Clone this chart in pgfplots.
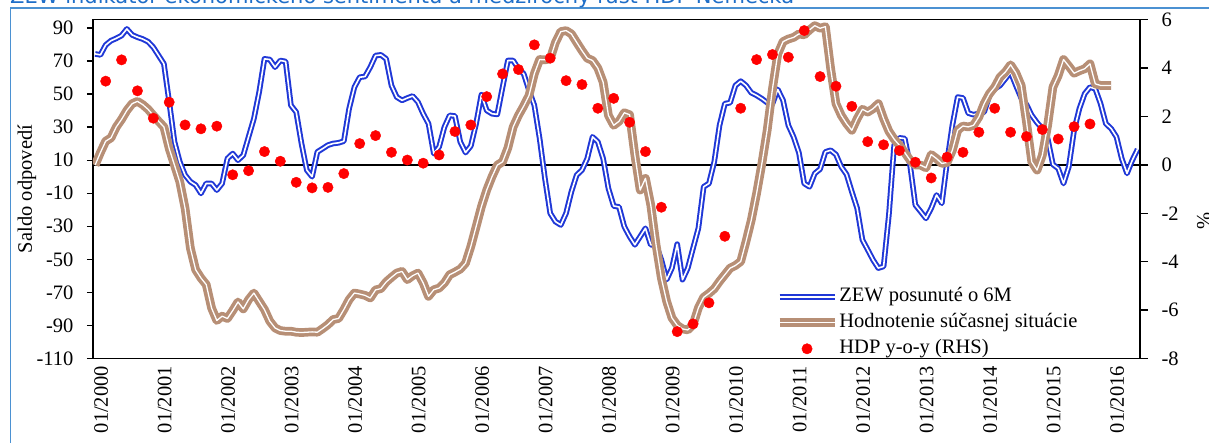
\documentclass[border=0pt]{standalone}
\usepackage{fontspec}
\setmainfont{Liberation Serif}
\newfontfamily\titlefont{DejaVu Sans}
\usepackage{pgfplots}
\pgfplotsset{compat=1.18}
\usepackage{pgfplotstable}
\definecolor{zewblue}{RGB}{32,56,215}
\definecolor{hodbrown}{RGB}{183,143,118}
\definecolor{frameblue}{RGB}{75,145,210}
\definecolor{titleblue}{RGB}{30,110,200}
\newcommand{\lbl}{\fontsize{20.5}{24}\selectfont}

\pgfplotstableread{
m v
0 74.3
1 73.7
2 79.7
3 82.3
4 83.7
5 85.4
6 89.4
7 85.8
8 84.4
9 83.3
10 81.7
11 78.3
12 73.3
13 68.3
14 45.2
15 21.1
16 9.0
17 1.0
18 -3.0
19 -5.1
20 -10.1
21 -4.1
22 -4.1
23 -8.1
24 -4.1
25 11.0
26 14.0
27 10.0
28 13.0
29 24.1
30 35.1
31 51.2
32 71.3
33 70.9
34 66.3
35 70.3
36 69.7
37 43.2
38 39.1
39 20.1
40 4.0
41 0.0
42 15.0
43 17.0
44 19.1
45 20.1
46 20.5
47 21.5
48 41.2
49 54.2
50 60.2
51 60.6
52 66.3
53 73.3
54 73.7
55 71.3
56 55.2
57 48.2
58 46.2
59 47.6
60 48.8
61 45.2
62 38.1
63 32.1
64 14.0
65 18.0
66 30.0
67 37.1
68 36.7
69 21.1
70 14.6
71 18.6
72 32.1
73 49.6
74 40.1
75 38.1
76 37.7
77 54.2
78 70.3
79 70.3
80 65.3
81 62.2
82 52.2
83 43.2
84 23.1
85 -1.0
86 -22.1
87 -27.2
88 -29.2
89 -22.1
90 -9.1
91 1.0
92 4.0
93 11.0
94 24.1
95 21.1
96 11.0
97 -7.1
98 -17.7
99 -18.3
100 -30.2
101 -36.2
102 -41.2
103 -36.2
104 -31.2
105 -41.2
106 -41.2
107 -50.3
108 -62.3
109 -55.3
110 -40.8
111 -62.3
112 -55.3
113 -43.2
114 -31.2
115 -6.1
116 -4.1
117 9.0
118 31.1
119 44.2
120 44.8
121 55.2
122 57.8
123 55.2
124 50.8
125 49.2
126 47.2
127 44.8
128 44.2
129 52.8
130 46.2
131 31.1
132 24.0
133 14.5
134 -4.1
135 -6.1
136 2.0
137 4.6
138 15.0
139 16.0
140 13.4
141 6.0
142 1.4
143 -9.1
144 -19.1
145 -38.2
146 -44.2
147 -50.3
148 -55.3
149 -54.3
150 -23.1
151 19.1
152 23.5
153 23.1
154 7.0
155 -17.1
156 -21.1
157 -25.2
158 -19.1
159 -11.1
160 -16.1
161 9.0
162 31.1
163 48.2
164 47.6
165 38.5
166 37.5
167 38.3
168 39.1
169 49.2
170 53.2
171 55.2
172 59.2
173 63.3
174 55.2
175 47.6
176 43.6
177 37.1
178 32.7
179 29.1
180 23.1
181 7.4
182 5.0
183 -4.1
184 6.0
185 28.1
186 41.2
187 50.2
188 54.2
189 53.2
190 44.2
191 32.1
192 29.1
193 24.1
194 11.0
195 2.0
196 10.0
197 16.6
}\zewdata

\pgfplotstableread{
m v
0 7.0
1 14.6
2 21.5
3 23.5
4 30.1
5 34.7
6 40.1
7 44.2
8 45.6
9 43.6
10 40.8
11 37.1
12 33.5
13 30.1
14 17.0
15 7.0
16 -3.1
17 -19.1
18 -43.2
19 -56.3
20 -61.3
21 -65.3
22 -79.4
23 -87.0
24 -84.4
25 -85.8
26 -81.0
27 -75.8
28 -80.0
29 -74.4
30 -70.4
31 -75.4
32 -80.4
33 -87.4
34 -91.5
35 -93.1
36 -93.5
37 -93.5
38 -94.1
39 -94.3
40 -94.1
41 -93.9
42 -94.1
43 -91.9
44 -89.5
45 -86.4
46 -85.8
47 -80.4
48 -74.4
49 -70.4
50 -71.0
51 -71.8
52 -73.4
53 -68.5
54 -67.7
55 -63.7
56 -60.9
57 -58.3
58 -57.3
59 -62.3
60 -59.9
61 -58.3
62 -64.3
63 -72.4
64 -68.4
65 -67.4
66 -64.3
67 -59.3
68 -57.7
69 -55.9
70 -52.3
71 -42.2
72 -30.2
73 -18.1
74 -8.1
75 0.0
76 7.0
77 9.0
78 17.4
79 30.1
80 37.1
81 42.8
82 49.2
83 62.3
84 70.9
85 70.7
86 71.3
87 81.3
88 87.8
89 88.4
90 86.4
91 81.3
92 76.3
93 71.7
94 70.3
95 65.7
96 57.2
97 37.1
98 31.1
99 33.5
100 38.7
101 37.5
102 13.0
103 -8.1
104 -1.0
105 -17.1
106 -41.2
107 -61.3
108 -75.4
109 -85.4
110 -89.9
111 -92.1
112 -92.7
113 -89.5
114 -79.4
115 -73.0
116 -70.6
117 -67.8
118 -63.3
119 -59.3
120 -55.3
121 -53.7
122 -51.3
123 -39.2
124 -26.2
125 -10.1
126 8.0
127 28.1
128 53.2
129 74.3
130 81.7
131 83.3
132 84.3
133 86.4
134 85.8
135 88.8
136 91.4
137 89.8
138 90.8
139 65.3
140 44.2
141 37.1
142 32.1
143 28.1
144 35.1
145 40.8
146 39.1
147 41.1
148 44.2
149 35.1
150 27.5
151 22.7
152 19.0
153 14.6
154 10.0
155 7.0
156 7.0
157 5.4
158 13.4
159 11.0
160 8.0
161 8.6
162 16.0
163 28.1
164 30.7
165 30.1
166 31.1
167 36.1
168 44.2
169 50.2
170 54.2
171 60.2
172 63.3
173 67.7
174 62.8
175 55.2
176 33.1
177 9.0
178 4.0
179 13.0
180 31.1
181 54.2
182 61.2
183 70.9
184 66.9
185 62.6
186 64.1
187 65.3
188 68.3
189 56.2
190 55.2
191 55.2
192 55.2
}\hoddata

\pgfplotstableread{
m v
2 3.46
5 4.34
8 3.06
11 1.93
14 2.59
17 1.65
20 1.49
23 1.60
26 -0.41
29 -0.24
32 0.55
35 0.15
38 -0.72
41 -0.95
44 -0.93
47 -0.36
50 0.88
53 1.21
56 0.52
59 0.20
62 0.07
65 0.41
68 1.38
71 1.65
74 2.82
77 3.76
80 3.94
83 4.96
86 4.41
89 3.48
92 3.32
95 2.34
98 2.75
101 1.76
104 0.55
107 -1.75
110 -6.89
113 -6.57
116 -5.70
119 -2.95
122 2.34
125 4.35
128 4.56
131 4.45
134 5.55
137 3.65
140 3.25
143 2.42
146 0.96
149 0.83
152 0.59
155 0.11
158 -0.54
161 0.32
164 0.52
167 1.35
170 2.34
173 1.35
176 1.17
179 1.46
182 1.07
185 1.58
188 1.69
}\hdpdata

\pgfplotsset{
  zewstyle/.style={draw=zewblue, double=white, line width=2.0pt, double distance=1.6pt, line join=round},
  hodstyle/.style={draw=hodbrown, double=white, line width=3.7pt, double distance=1.3pt, line join=round},
  lineimg/.style={legend image code/.code={\draw[##1] (0pt,0pt) -- (55pt,0pt);}},
  dotimg/.style={legend image code/.code={\draw[##1] plot coordinates {(27.5pt,0pt)};}},
}

\begin{document}
\begin{tikzpicture}
\useasboundingbox (-93pt,-84.5pt) rectangle (1116pt,358.5pt);
\draw[frameblue, line width=1.5pt] (-82.5pt,-100pt) -- (-82.5pt,350.25pt) -- (1130pt,350.25pt);
\node[anchor=base west, inner sep=0pt, text=titleblue, font=\titlefont\fontsize{21}{25}\selectfont] at (-83pt,354.5pt) {ZEW indikátor ekonomického sentimentu a medziročný rast HDP Nemecka};

\begin{axis}[
  at={(0pt,0pt)}, anchor=south west,
  scale only axis, width=1047pt, height=338.8pt,
  xmin=-0.4, xmax=197.45, ymin=-110, ymax=95,
  axis line style={line width=1.3pt},
  xtick={0,12,...,192},
  xticklabels={01/2000,01/2001,01/2002,01/2003,01/2004,01/2005,01/2006,01/2007,01/2008,01/2009,01/2010,01/2011,01/2012,01/2013,01/2014,01/2015,01/2016},
  x tick label style={rotate=90, anchor=east, font=\lbl, xshift=2pt, yshift=-6pt},
  major x tick style={draw=none},
  ytick={-110,-90,...,90},
  ytick pos=left, tick align=outside, major tick length=6pt,
  major y tick style={line width=1.3pt, black},
  yticklabel={\pgfmathprintnumber{\tick}},
  y tick label style={font=\lbl, xshift=-10pt},
  /pgf/number format/assume math mode=true,
]
\addplot[black, line width=1.3pt, forget plot] coordinates {(-0.4,7.142857) (197.45,7.142857)};
\addplot[zewstyle, no markers] table[x=m, y=v] {\zewdata};
\addplot[hodstyle, no markers] table[x=m, y=v] {\hoddata};
\end{axis}

\begin{axis}[
  at={(0pt,0pt)}, anchor=south west,
  scale only axis, width=1047pt, height=338.8pt,
  xmin=-0.4, xmax=197.45, ymin=-8, ymax=6,
  axis y line*=right, axis x line=none,
  axis line style={line width=1.3pt},
  ytick={-8,-6,...,6},
  tick align=outside, major tick length=8pt,
  major y tick style={line width=1.3pt, black},
  yticklabel={\pgfmathprintnumber{\tick}},
  y tick label style={font=\lbl, xshift=10pt},
  /pgf/number format/assume math mode=true,
  legend cell align=left,
  legend style={at={(0.6514,0)}, anchor=south west, yshift=-1pt, draw=none, fill=none, inner sep=0pt, row sep=5pt, font=\lbl, nodes={text height=15pt, text depth=5pt, inner sep=0.5pt}},
]
\addlegendimage{zewstyle, lineimg}
\addlegendentry{ZEW posunuté o 6M}
\addlegendimage{hodstyle, lineimg}
\addlegendentry{Hodnotenie súčasnej situácie}
\addplot[only marks, mark=*, mark size=5.2pt, color=red, mark options={draw=red, fill=red}, dotimg] table[x=m, y=v] {\hdpdata};
\addlegendentry{HDP y-o-y (RHS)}
\end{axis}

\node[rotate=90, font=\lbl] at (-66pt,169.5pt) {Saldo odpovedí};
\node[rotate=90, font=\lbl] at (1111pt,137.5pt) {\%};
\end{tikzpicture}
\end{document}
